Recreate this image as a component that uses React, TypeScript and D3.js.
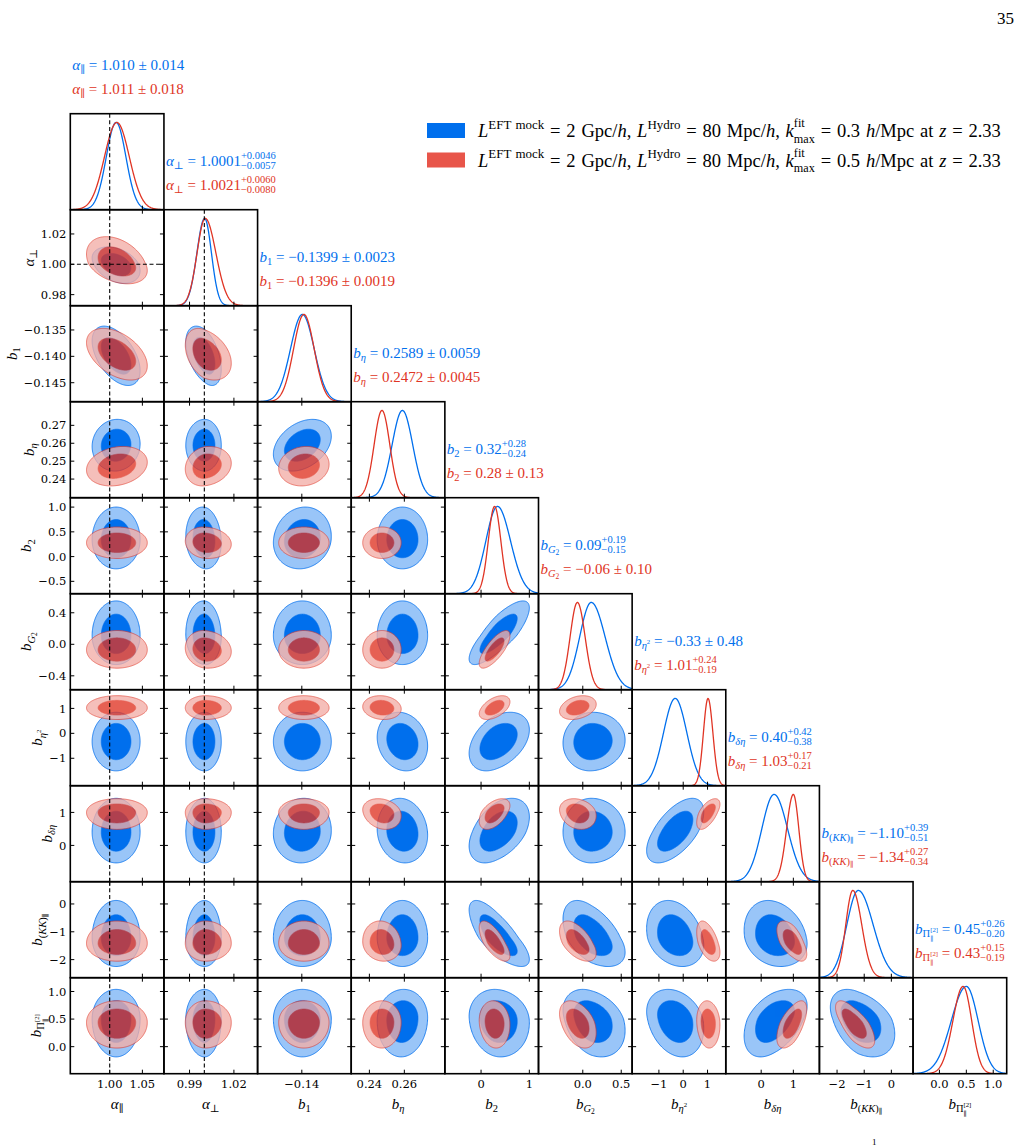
import React, { useEffect, useRef } from "react";
import * as d3 from "d3";

// parameter axis ranges (same range used for x in a column and y in a row)
const lo = [0.9397, 0.9727, -0.1486, 0.2296, -0.75, -0.576, -2.1, -1.1, -2.65, -0.49];
const hi = [1.083, 1.036, -0.1304, 0.2832, 1.19, 0.642, 1.75, 1.81, 0.8, 1.25];

const xTickLabels = [
  ["1.00", "1.05"], ["0.99", "1.02"], ["−0.14"], ["0.24", "0.26"], ["0", "1"],
  ["0.0", "0.5"], ["−1", "0", "1"], ["0", "1"], ["−2", "−1", "0"], ["0.0", "0.5", "1.0"],
];
const yTickLabels = [
  [], ["0.98", "1.00", "1.02"], ["−0.145", "−0.140", "−0.135"], ["0.24", "0.25", "0.26", "0.27"],
  ["−0.5", "0.0", "0.5", "1.0"], ["−0.4", "0.0", "0.4"], ["−1", "0", "1"], ["0", "1"],
  ["−2", "−1", "0"], ["0.0", "0.5", "1.0"],
];

// marginal posteriors: peak, lower width, upper width
const bluePeak = [1.0098, 1.0002, -0.1399, 0.2589, 0.34, 0.11, -0.33, 0.4, -1.22, 0.5];
const blueSigL = [0.015, 0.0052, 0.0023, 0.0059, 0.24, 0.15, 0.48, 0.38, 0.42, 0.28];
const blueSigR = [0.015, 0.0046, 0.0023, 0.0059, 0.27, 0.18, 0.48, 0.42, 0.55, 0.22];
const redPeak = [1.011, 1.0006, -0.1396, 0.2472, 0.28, -0.07, 1.02, 1.0, -1.42, 0.44];
const redSigL = [0.019, 0.0055, 0.002, 0.0045, 0.13, 0.095, 0.19, 0.21, 0.26, 0.19];
const redSigR = [0.019, 0.0072, 0.002, 0.0045, 0.13, 0.1, 0.2, 0.17, 0.33, 0.16];

// correlation coefficients, lower triangle (row i, col j < i)
const rhoBlue = [
  [],
  [-0.35],
  [-0.5, -0.45],
  [0.05, 0.0, 0.35],
  [0.0, -0.1, 0.1, 0.0],
  [0.0, -0.05, 0.0, 0.0, 0.8],
  [0.0, 0.0, 0.0, -0.15, 0.4, 0.05],
  [0.0, 0.0, 0.05, -0.1, 0.45, 0.0, 0.6],
  [0.0, 0.0, 0.0, 0.0, -0.75, -0.5, -0.25, -0.2],
  [0.0, 0.0, 0.0, 0.05, -0.1, -0.3, -0.25, 0.45, -0.4],
];
const rhoRed = [
  [],
  [-0.35],
  [-0.45, -0.35],
  [0.2, 0.15, 0.1],
  [0.0, -0.1, 0.0, 0.0],
  [0.0, -0.1, 0.0, 0.0, 0.75],
  [0.0, 0.0, 0.0, -0.1, 0.5, 0.3],
  [0.0, 0.0, 0.0, -0.2, 0.5, -0.2, 0.6],
  [0.0, 0.0, 0.0, -0.1, -0.7, -0.55, -0.5, -0.6],
  [0.0, 0.0, 0.0, 0.0, -0.1, -0.4, -0.1, 0.6, -0.7],
];

// reference (truth) values for the first two parameters
const truth = [1.0, 1.0];

// summary titles: [value, err] or [value, +err, -err]
const blueTitle = [
  ["1.010", "0.014"], ["1.0001", "+0.0046", "−0.0057"], ["−0.1399", "0.0023"], ["0.2589", "0.0059"],
  ["0.32", "+0.28", "−0.24"], ["0.09", "+0.19", "−0.15"], ["−0.33", "0.48"], ["0.40", "+0.42", "−0.38"],
  ["−1.10", "+0.39", "−0.51"], ["0.45", "+0.26", "−0.20"],
];
const redTitle = [
  ["1.011", "0.018"], ["1.0021", "+0.0060", "−0.0080"], ["−0.1396", "0.0019"], ["0.2472", "0.0045"],
  ["0.28", "0.13"], ["−0.06", "0.10"], ["1.01", "+0.24", "−0.19"], ["1.03", "+0.17", "−0.21"],
  ["−1.34", "+0.27", "−0.34"], ["0.43", "+0.15", "−0.19"],
];

const kmax = ["0.3", "0.5"];

type Part = [string, string, number?, number?];
const names: Part[][] = [
  [["α", "n", 1], ["∥", "sub"]],
  [["α", "n", 1], ["⊥", "sub"]],
  [["b", "n", 1], ["1", "sub"]],
  [["b", "n", 1], ["η", "sub", 1]],
  [["b", "n", 1], ["2", "sub"]],
  [["b", "n", 1], ["G", "sub", 1], ["2", "subsub"]],
  [["b", "n", 1], ["η", "sub", 1], ["2", "subsup"]],
  [["b", "n", 1], ["δη", "sub", 1]],
  [["b", "n", 1], ["(", "sub"], ["KK", "sub", 1], [")", "sub"], ["∥", "subsub"]],
  [["b", "n", 1], ["Π", "sub"], ["[2]", "subsup"], ["∥", "lowsub", 0, 1]],
];

const BLUE = "#006FED";
const BLUE_LIGHT = "#99C5F8";
const RED = "#E03424";
const RED_LIGHT = "#F3AEA7";
const MATH = "'Liberation Serif', 'DejaVu Serif', serif";
const TICKF = "'DejaVu Serif', serif";

const LV: Record<string, { o: number; s: number }> = {
  n: { o: 0, s: 1 },
  sub: { o: 0.22, s: 0.7 },
  sup: { o: -0.45, s: 0.7 },
  ksup: { o: -0.52, s: 0.66 },
  ksub: { o: 0.3, s: 0.66 },
  subsub: { o: 0.38, s: 0.5 },
  lowsub: { o: 0.48, s: 0.45 },
  subsup: { o: -0.12, s: 0.45 },
};

const N = 10;
const X0 = 70.3;
const Y0 = 113.7;
const CW = 93.64;
const RH = 96;
const R95 = Math.sqrt(5.99);
const R68 = Math.sqrt(2.3);

const num = (s: string) => +s.replace("−", "-");
const dens = (v: number, m: number, sl: number, sr: number) =>
  Math.exp(-0.5 * ((v - m) / (v < m ? sl : sr)) ** 2);

function rich(sel: any, x: number, y: number, parts: Part[], F: number, color: string, anchor = "start", rotate = false, ws = 0) {
  const t = sel
    .append("text")
    .attr("font-family", MATH)
    .attr("font-size", F)
    .attr("fill", color)
    .attr("text-anchor", anchor)
    .style("white-space", "pre");
  if (ws) t.style("word-spacing", `${ws}px`);
  if (rotate) t.attr("transform", `translate(${x},${y}) rotate(-90)`);
  else t.attr("x", x).attr("y", y);
  let cur = 0;
  let prevW = 0;
  let extra = 0;
  parts.forEach(([txt, lvl, it, back], k) => {
    const L = LV[lvl];
    const ts = t
      .append("tspan")
      .attr("font-size", F * L.s)
      .attr("font-style", it ? "italic" : "normal")
      .attr("dy", (L.o - cur) * F)
      .text(txt);
    let dx = extra;
    extra = 0;
    if (back && k > 0) dx -= prevW;
    if (dx) ts.attr("dx", dx);
    const w = (ts.node() as SVGTSpanElement).getComputedTextLength();
    if (back && prevW > w) extra = prevW - w;
    cur = L.o;
    prevW = w;
  });
  return t;
}

function titleParts(k: number, v: string[]): Part[] {
  const p: Part[] = [...names[k], [" = ", "n"], [v[0], "n"]];
  if (v.length === 2) p.push([" ± ", "n"], [v[1], "n"]);
  else p.push([v[1], "sup"], [v[2], "sub", 0, 1]);
  return p;
}

function contour(j: number, i: number, peak: number[], sL: number[], sR: number[], rho: number, r: number) {
  return d3.range(0, 180).map((k) => {
    const th = (k / 180) * 2 * Math.PI;
    const u = r * Math.cos(th);
    const v = r * (rho * Math.cos(th) + Math.sqrt(1 - rho * rho) * Math.sin(th));
    return [peak[j] + u * (u < 0 ? sL[j] : sR[j]), peak[i] + v * (v < 0 ? sL[i] : sR[i])] as [number, number];
  });
}

export default function App() {
  const ref = useRef<SVGSVGElement>(null);

  useEffect(() => {
    const svg = d3.select(ref.current);
    svg.selectAll("*").remove();
    const defs = svg.append("defs");
    const root = svg.append("g");

    const colL = (j: number) => X0 + j * CW;
    const rowT = (i: number) => Y0 + i * RH;
    const xScale = (j: number) => d3.scaleLinear().domain([lo[j], hi[j]]).range([colL(j), colL(j) + CW]);
    const yScale = (i: number) => d3.scaleLinear().domain([lo[i], hi[i]]).range([rowT(i) + RH, rowT(i)]);

    for (let i = 0; i < N; i++) {
      for (let j = 0; j <= i; j++) {
        const x = xScale(j);
        const L = colL(j), T = rowT(i), R = L + CW, B = T + RH;
        const id = `clip-${i}-${j}`;
        defs.append("clipPath").attr("id", id).append("rect").attr("x", L).attr("y", T).attr("width", CW).attr("height", RH);
        const panel = root.append("g");
        const body = panel.append("g").attr("clip-path", `url(#${id})`);

        if (i === j) {
          const y = d3.scaleLinear().domain([0, 1.1]).range([B, T]);
          const grid = d3.range(300).map((k) => lo[j] + ((hi[j] - lo[j]) * k) / 299);
          const runs = [
            [bluePeak, blueSigL, blueSigR, BLUE],
            [redPeak, redSigL, redSigR, RED],
          ] as const;
          for (const [pk, sl, sr, col] of runs) {
            const line = d3
              .line<number>()
              .x((v) => x(v))
              .y((v) => y(dens(v, pk[j], sl[j], sr[j])));
            body.append("path").attr("d", line(grid)).attr("fill", "none").attr("stroke", col).attr("stroke-width", 1.3);
          }
          // titles
          rich(root, L + 2, T - 44, titleParts(j, blueTitle[j]), 15, BLUE);
          rich(root, L + 2, T - 20, titleParts(j, redTitle[j]), 15, RED);
        } else {
          const y = yScale(i);
          const path = d3
            .line<[number, number]>()
            .x((d) => x(d[0]))
            .y((d) => y(d[1]))
            .curve(d3.curveLinearClosed);
          const runs = [
            [bluePeak, blueSigL, blueSigR, rhoBlue[i][j], BLUE, BLUE_LIGHT, 1],
            [redPeak, redSigL, redSigR, rhoRed[i][j], RED, RED_LIGHT, 0.78],
          ] as const;
          for (const [pk, sl, sr, rho, dark, light, op] of runs) {
            const gg = body.append("g").attr("opacity", op);
            gg.append("path")
              .attr("d", path(contour(j, i, pk as number[], sl as number[], sr as number[], rho as number, R95)))
              .attr("fill", light)
              .attr("stroke", dark)
              .attr("stroke-width", 0.8);
            gg.append("path")
              .attr("d", path(contour(j, i, pk as number[], sl as number[], sr as number[], rho as number, R68)))
              .attr("fill", dark)
              .attr("stroke", dark)
              .attr("stroke-width", 0.6);
          }
          if (i === 1 && j === 0) {
            body.append("line").attr("x1", L).attr("x2", R).attr("y1", y(truth[1])).attr("y2", y(truth[1]))
              .attr("stroke", "#000").attr("stroke-width", 1.1).attr("stroke-dasharray", "4,2.6");
          }
          // y ticks left and right
          for (const lab of yTickLabels[i]) {
            const yy = y(num(lab));
            panel.append("line").attr("x1", L).attr("x2", L + 4).attr("y1", yy).attr("y2", yy).attr("stroke", "#000");
            panel.append("line").attr("x1", R - 4).attr("x2", R).attr("y1", yy).attr("y2", yy).attr("stroke", "#000");
          }
          // x ticks on top
          for (const lab of xTickLabels[j]) {
            const xx = x(num(lab));
            panel.append("line").attr("x1", xx).attr("x2", xx).attr("y1", T).attr("y2", T + 4).attr("stroke", "#000");
          }
        }
        if (j < truth.length) {
          body.append("line").attr("x1", x(truth[j])).attr("x2", x(truth[j])).attr("y1", T).attr("y2", B)
            .attr("stroke", "#000").attr("stroke-width", 1.1).attr("stroke-dasharray", "4,2.6");
        }
        for (const lab of xTickLabels[j]) {
          const xx = x(num(lab));
          panel.append("line").attr("x1", xx).attr("x2", xx).attr("y1", B - 4).attr("y2", B).attr("stroke", "#000");
        }
        panel.append("rect").attr("x", L).attr("y", T).attr("width", CW).attr("height", RH)
          .attr("fill", "none").attr("stroke", "#000").attr("stroke-width", 1.6);
      }
    }

    // left tick labels and y-axis labels
    for (let i = 1; i < N; i++) {
      const y = yScale(i);
      const tg = root.append("g").attr("font-family", TICKF).attr("font-size", 11.5).attr("fill", "#000");
      for (const lab of yTickLabels[i]) {
        tg.append("text").attr("x", X0 - 4).attr("y", y(num(lab))).attr("dy", "0.36em").attr("text-anchor", "end").text(lab);
      }
      const bb = (tg.node() as SVGGElement).getBBox();
      rich(root, bb.x - 7, rowT(i) + RH / 2, names[i], 15, "#000", "middle", true);
    }

    // bottom tick labels and x-axis labels
    const bottom = rowT(N - 1) + RH;
    for (let j = 0; j < N; j++) {
      const x = xScale(j);
      const tg = root.append("g").attr("font-family", TICKF).attr("font-size", 11.5).attr("fill", "#000");
      for (const lab of xTickLabels[j]) {
        tg.append("text").attr("x", x(num(lab))).attr("y", bottom + 14).attr("text-anchor", "middle").text(lab);
      }
      rich(root, colL(j) + CW / 2, bottom + 35, names[j], 15, "#000", "middle");
    }

    // legend
    const legCols = [BLUE, "#E8554A"];
    kmax.forEach((k, r) => {
      const yy = 123 + r * 29.5;
      root.append("rect").attr("x", 427).attr("y", yy).attr("width", 38).attr("height", 15).attr("fill", legCols[r]);
      const parts: Part[] = [
        ["L", "n", 1], ["EFT mock", "sup"], [" = 2 Gpc/", "n"], ["h", "n", 1], [", ", "n"],
        ["L", "n", 1], ["Hydro", "sup"], [" = 80 Mpc/", "n"], ["h", "n", 1], [", ", "n"],
        ["k", "n", 1], ["fit", "ksup"], ["max", "ksub", 0, 1], [" = " + k + " ", "n"], ["h", "n", 1],
        ["/Mpc at ", "n"], ["z", "n", 1], [" = 2.33", "n"],
      ];
      rich(root, 478, yy + 14, parts, 18.5, "#000", "start", false, 1.2);
    });

    root.append("text").attr("x", 1014).attr("y", 24).attr("text-anchor", "end")
      .attr("font-family", MATH).attr("font-size", 17).text("35");
    root.append("text").attr("x", 872).attr("y", 1145).attr("font-family", MATH).attr("font-size", 9).text("1");
  }, []);

  return (
    <svg
      ref={ref}
      width={1021}
      height={1148}
      style={{ position: "absolute", left: 0, top: 0, background: "#fff" }}
    />
  );
}
